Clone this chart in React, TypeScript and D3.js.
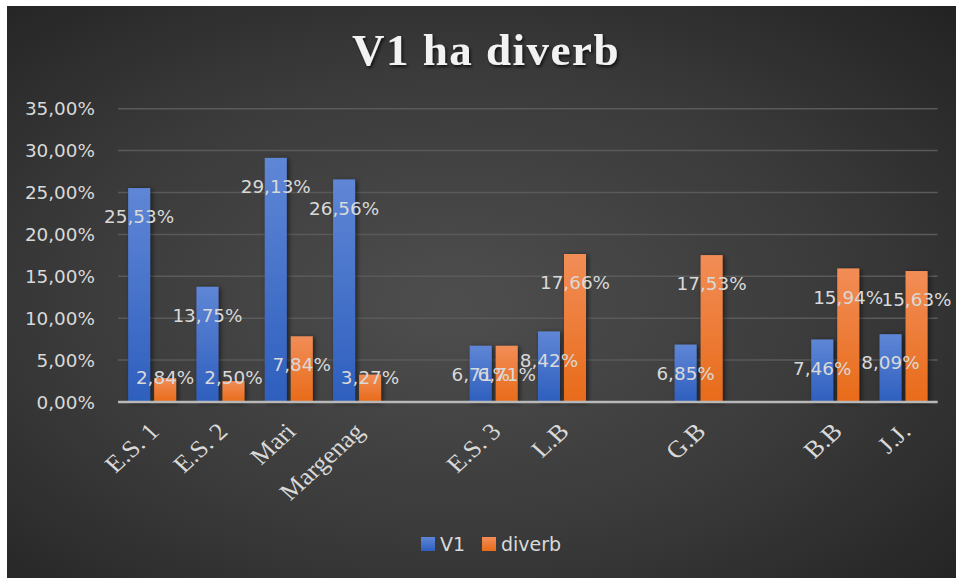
import React from "react";
import * as d3 from "d3";

const categories = ["E.S. 1", "E.S. 2", "Mari", "Margenag", "", "E.S. 3", "L.B", "", "G.B", "", "B.B", "J.J."];
const v1Values: (number | null)[] = [25.53, 13.75, 29.13, 26.56, null, 6.71, 8.42, null, 6.85, null, 7.46, 8.09];
const diverbValues: (number | null)[] = [2.84, 2.5, 7.84, 3.27, null, 6.71, 17.66, null, 17.53, null, 15.94, 15.63];
const seriesNames = ["V1", "diverb"];
const yTicks = [0, 5, 10, 15, 20, 25, 30, 35];
const title = "V1 ha diverb";

const W = 956;
const H = 578;
const plot = { left: 118, right: 937.7, top: 108.7, bottom: 402 };

const fmt = (v: number) => v.toFixed(2).replace(".", ",") + "%";

export default function App() {
  const x0 = d3.scaleBand<number>().domain(categories.map((_, i) => i)).range([plot.left, plot.right]).padding(0);
  const bw = x0.bandwidth();
  const x1 = d3.scaleBand<string>().domain(seriesNames).range([bw / 2 - 24, bw / 2 + 24]).paddingInner(4 / 26);
  const y = d3.scaleLinear().domain([0, 35]).range([plot.bottom, plot.top]);
  const seriesData = [v1Values, diverbValues];
  const fills = ["url(#gBlue)", "url(#gOrange)"];
  const labelFont = "'DejaVu Sans', sans-serif";
  const textColor = "#d9d9d9";

  return (
    <svg width={W} height={H} style={{ position: "absolute", left: 0, top: 0 }}>
      <defs>
        <radialGradient id="bg" cx="0.47" cy="0.52" r="0.75">
          <stop offset="0" stopColor="#4e4e4e" />
          <stop offset="0.55" stopColor="#3a3a3a" />
          <stop offset="1" stopColor="#222222" />
        </radialGradient>
        <linearGradient id="gBlue" x1="0" y1="0" x2="0" y2="1">
          <stop offset="0" stopColor="#5f86d6" />
          <stop offset="1" stopColor="#2e5fbe" />
        </linearGradient>
        <linearGradient id="gOrange" x1="0" y1="0" x2="0" y2="1">
          <stop offset="0" stopColor="#f28d57" />
          <stop offset="1" stopColor="#e86b19" />
        </linearGradient>
        <filter id="barShadow" x="-50%" y="-10%" width="200%" height="130%">
          <feDropShadow dx="2" dy="1" stdDeviation="2.5" floodColor="#000" floodOpacity="0.55" />
        </filter>
        <filter id="titleShadow" x="-10%" y="-30%" width="120%" height="160%">
          <feDropShadow dx="1.5" dy="2" stdDeviation="1.5" floodColor="#000" floodOpacity="0.7" />
        </filter>
      </defs>
      <rect x={0} y={0} width={W} height={H} fill="#ffffff" />
      <rect x={7} y={6} width={W - 7} height={H - 6} fill="url(#bg)" />

      <text
        x={486}
        y={65}
        textAnchor="middle"
        fill="#f2f2f2"
        fontFamily="'Liberation Serif', 'Times New Roman', serif"
        fontWeight="bold"
        fontSize={45}
        letterSpacing={1.5}
        filter="url(#titleShadow)"
      >
        {title}
      </text>

      {yTicks.map((t) => (
        <g key={t}>
          {t > 0 && (
            <line x1={plot.left} x2={plot.right} y1={y(t)} y2={y(t)} stroke="#5a5a5a" strokeWidth={1.5} />
          )}
          <text
            x={95}
            y={y(t)}
            dy="0.36em"
            textAnchor="end"
            fill={textColor}
            fontFamily={labelFont}
            fontSize={18.4}
          >
            {fmt(t)}
          </text>
        </g>
      ))}

      {categories.map((c, i) => (
        <g key={"g" + i}>
          {seriesData.map((s, si) => {
            const v = s[i];
            if (v == null) return null;
            const xx = (x0(i) as number) + (x1(seriesNames[si]) as number);
            return (
              <rect
                key={si}
                x={xx}
                y={y(v)}
                width={x1.bandwidth()}
                height={y(0) - y(v)}
                fill={fills[si]}
                filter="url(#barShadow)"
              />
            );
          })}
        </g>
      ))}

      <line x1={plot.left} x2={plot.right} y1={y(0)} y2={y(0)} stroke="#b8b8b8" strokeWidth={2.5} />

      {categories.map((c, i) => (
        <g key={"l" + i}>
          {seriesData.map((s, si) => {
            const v = s[i];
            if (v == null) return null;
            const cx = (x0(i) as number) + (x1(seriesNames[si]) as number) + x1.bandwidth() / 2;
            const cy = Math.min(y(v) + 28.5, y(0) - 25);
            return (
              <text
                key={si}
                x={cx}
                y={cy}
                dy="0.36em"
                textAnchor="middle"
                fill={textColor}
                fontFamily={labelFont}
                fontSize={18.4}
              >
                {fmt(v)}
              </text>
            );
          })}
        </g>
      ))}

      {categories.map((c, i) =>
        c ? (
          <text
            key={"x" + i}
            transform={`translate(${(x0(i) as number) + bw / 2 + 2},${plot.bottom + 25}) scale(1.1,1) rotate(-45)`}
            textAnchor="end"
            fill={textColor}
            fontFamily="'Liberation Serif', 'Times New Roman', serif"
            fontSize={24}
            dy="0.35em"
          >
            {c}
          </text>
        ) : null
      )}

      {seriesNames.map((n, si) => {
        const lx = [421, 482][si];
        return (
          <g key={n}>
            <rect x={lx} y={537} width={14} height={14} fill={fills[si]} />
            <text x={lx + 19} y={544} dy="0.36em" fill={textColor} fontFamily={labelFont} fontSize={19}>
              {n}
            </text>
          </g>
        );
      })}
    </svg>
  );
}
